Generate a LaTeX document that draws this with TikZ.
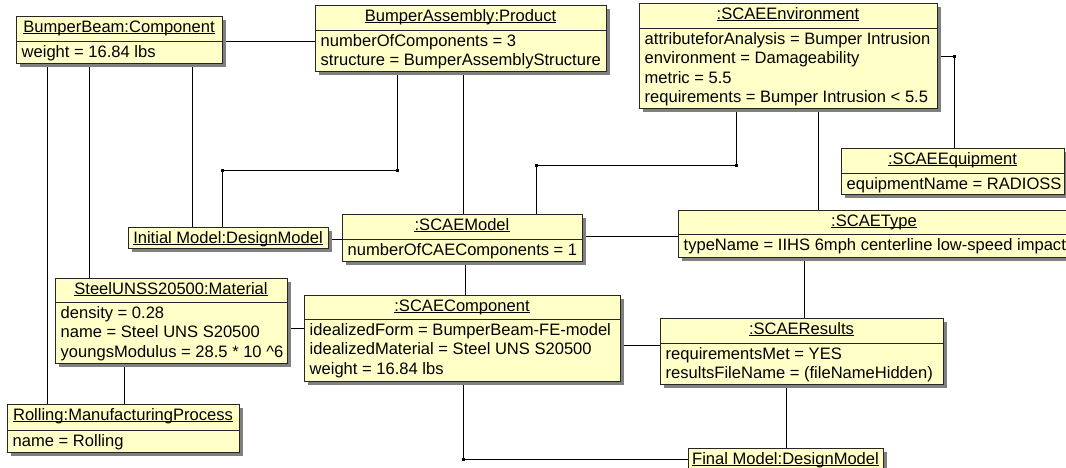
\documentclass[tikz,border=0pt]{standalone}
\usepackage{fontspec}
\setmainfont{Liberation Sans}
\usetikzlibrary{backgrounds}
\definecolor{objfill}{RGB}{255,255,200}
\definecolor{objshade}{RGB}{128,128,128}

% object box: name, left, top, right, bottom, title
\newcommand\umlbox[6]{%
  \fill[objshadow] (#2+4,#3+4) rectangle (#4+4,#5+4);
  \node[objframe, minimum width={#4-#2}, minimum height={#5-#3}] (#1) at (#2,#3) {};
  \node[objtitle] (#1-t) at ({(#2+#4)/2},#3+16.3) {#6};
  \draw[titleline] ([yshift=-1.6pt]#1-t.base west) -- ([yshift=-1.6pt]#1-t.base east);
}
% attribute compartment: name, left, right, divider y, list of lines
\newcommand\umlattrs[5]{%
  \draw[objline] (#2,#4) -- (#3,#4);
  \foreach \txt [count=\i from 0] in {#5}
    \node[attrtext] (#1-a\i) at (#2+5.5,{#4+16+19.5*\i}) {\txt};
}

\begin{document}
\begin{tikzpicture}[x=1pt,y=-1pt,
  objframe/.style={rectangle, draw=black!85, line width=1pt, fill=objfill,
    inner sep=0pt, outer sep=0pt, anchor=north west},
  objshadow/.style={fill=objshade},
  objline/.style={draw=black!85, line width=1pt},
  titleline/.style={draw=black, line width=0.9pt},
  objtitle/.style={inner sep=0pt, anchor=base, font=\fontsize{16.55}{19.5}\selectfont},
  attrtext/.style={inner sep=0pt, anchor=base west, font=\fontsize{16.55}{19.5}\selectfont},
  link/.style={draw=black, line width=1pt},
  joint/.style={rectangle, fill=black, minimum size=3pt, inner sep=0pt}]
\useasboundingbox (0,0) rectangle (1066,467);
\clip (0,0) rectangle (1066,467);

% objects
\umlbox{bb}{16}{16}{222}{63}{BumperBeam:Component}
\umlattrs{bb}{16}{222}{41}{{weight = 16.84 lbs}}

\umlbox{ba}{315}{5}{606}{71}{BumperAssembly:Product}
\umlattrs{ba}{315}{606}{30}{{numberOfComponents = 3},{structure = BumperAssemblyStructure}}

\umlbox{env}{639}{3}{937}{108}{:SCAEEnvironment}
\umlattrs{env}{639}{937}{28}{{attributeforAnalysis = Bumper Intrusion},{environment = Damageability},{metric = 5.5},{requirements = Bumper Intrusion < 5.5}}

\umlbox{equip}{841}{148}{1064}{194}{:SCAEEquipment}
\umlattrs{equip}{841}{1064}{173}{{equipmentName = RADIOSS}}

\umlbox{type}{678}{210}{1070}{257}{:SCAEType}
\umlattrs{type}{678}{1070}{234}{{typeName = IIHS 6mph centerline low-speed impact}}

\umlbox{init}{128}{227}{328}{248}{Initial Model:DesignModel}

\umlbox{model}{342}{214}{582}{261}{:SCAEModel}
\umlattrs{model}{342}{582}{239}{{numberOfCAEComponents = 1}}

\umlbox{steel}{55}{278}{287}{363}{SteelUNSS20500:Material}
\umlattrs{steel}{55}{287}{302}{{density = 0.28},{name = Steel UNS S20500},{youngsModulus = 28.5 * 10 \textasciicircum6}}

\umlbox{comp}{304}{295}{620}{381}{:SCAEComponent}
\umlattrs{comp}{304}{620}{319}{{idealizedForm = BumperBeam-FE-model},{idealizedMaterial = Steel UNS S20500},{weight = 16.84 lbs}}

\umlbox{res}{660}{318}{943}{384}{:SCAEResults}
\umlattrs{res}{660}{943}{343}{{requirementsMet = YES},{resultsFileName = (fileNameHidden)}}

\umlbox{roll}{7}{404}{239}{452}{Rolling:ManufacturingProcess}
\umlattrs{roll}{7}{239}{430}{{name = Rolling}}

\umlbox{final}{688}{448}{883}{469}{Final Model:DesignModel}

% links, drawn beneath the objects
\begin{pgfonlayer}{background}
  \node[joint] (j1) at (397,170) {};
  \node[joint] (j2) at (222,170) {};
  \node[joint] (j3) at (736,165) {};
  \node[joint] (j4) at (536,165) {};
  \node[joint] (j5) at (954,56) {};
  \node[joint] (j6) at (463,459) {};

  \draw[link] (bb.east |- 0,41) -- (ba.west |- 0,41);
  \draw[link] (47,0 |- bb.south) -- (47,0 |- roll.north);
  \draw[link] (89,0 |- bb.south) -- (89,0 |- steel.north);
  \draw[link] (192,0 |- bb.south) -- (192,0 |- init.north);
  \draw[link] (397,0 |- ba.south) -- (j1.center) -- (j2.center) -- (222,0 |- init.north);
  \draw[link] (463,0 |- ba.south) -- (463,0 |- model.north);
  \draw[link] (736,0 |- env.south) -- (j3.center) -- (j4.center) -- (536,0 |- model.north);
  \draw[link] (818,0 |- env.south) -- (818,0 |- type.north);
  \draw[link] (env.east |- 0,56) -- (j5.center) -- (954,0 |- equip.north);
  \draw[link] (init.east |- 0,239) -- (model.west |- 0,239);
  \draw[link] (model.east |- 0,236) -- (type.west |- 0,236);
  \draw[link] (465,0 |- model.south) -- (465,0 |- comp.north);
  \draw[link] (804,0 |- type.south) -- (804,0 |- res.north);
  \draw[link] (steel.east |- 0,328) -- (comp.west |- 0,328);
  \draw[link] (comp.east |- 0,345) -- (res.west |- 0,345);
  \draw[link] (124,0 |- steel.south) -- (124,0 |- roll.north);
  \draw[link] (463,0 |- comp.south) -- (j6.center) -- (final.west |- 0,459);
  \draw[link] (786,0 |- res.south) -- (786,0 |- final.north);
\end{pgfonlayer}
\end{tikzpicture}
\end{document}
